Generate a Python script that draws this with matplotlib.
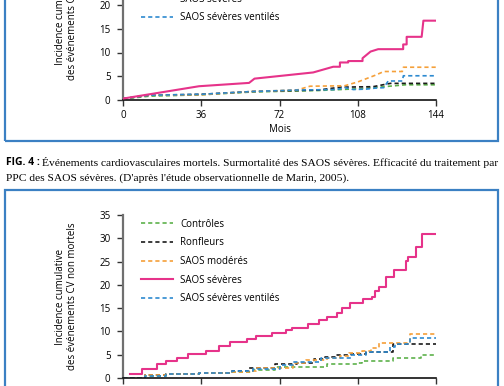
import matplotlib
matplotlib.use("Agg")
import matplotlib.pyplot as plt
from matplotlib.patches import Rectangle

# Fig. 4 : événements CV mortels (haut) et non mortels (bas), en fonction des mois
labels = ["Contrôles", "Ronfleurs", "SAOS modérés", "SAOS sévères", "SAOS sévères ventilés"]
colors = ["#5db14b", "#1a1a1a", "#f5a03a", "#e6338a", "#2d8ad0"]
ticks_x = [0, 36, 72, 108, 144]

# --- graphique du haut (mortels)
top_ctrl_x = [0, 12, 36, 60, 90, 110, 120, 130, 144]
top_ctrl_y = [0.2, 0.8, 1.1, 1.7, 2.0, 2.4, 2.8, 3.2, 3.2]
top_ronf_x = [0, 12, 36, 60, 90, 100, 115, 123, 144]
top_ronf_y = [0.3, 1.0, 1.2, 1.8, 2.1, 2.7, 2.8, 3.5, 3.5]
top_mod_x = [0, 12, 36, 60, 80, 86, 102, 108, 112, 116, 120, 128.5, 129, 144]
top_mod_y = [0.3, 1.0, 1.1, 1.8, 2.1, 2.9, 3.0, 3.8, 4.5, 5.2, 6.0, 6.0, 6.9, 6.9]
top_sev_x = [0, 35, 58, 60.5, 87.5, 96.7, 99.8, 99.8, 103.6, 103.6, 110.2, 110.2, 113.9,
             117.4, 128.9, 128.9, 130.5, 130.5, 137.4, 138.2, 144]
top_sev_y = [0.3, 2.9, 3.6, 4.5, 5.8, 7.0, 7.0, 7.9, 7.9, 8.2, 8.2, 8.8, 10.2,
             10.7, 10.7, 11.7, 11.7, 13.3, 13.3, 16.7, 16.7]
top_vent_x = [0, 12, 36, 60, 80, 98, 102, 106, 112, 116, 120, 122, 128.5, 129, 144]
top_vent_y = [0.3, 1.0, 1.2, 1.8, 2.1, 2.2, 2.6, 2.2, 2.3, 2.5, 2.6, 4.0, 4.0, 5.1, 5.1]

# --- graphique du bas (non mortels), en escalier
bas_ctrl_x = [0, 10, 20, 35, 50, 60, 70, 94, 108, 110, 124, 137, 144]
bas_ctrl_y = [0, 0.5, 0.8, 1.0, 1.2, 1.8, 2.4, 3.0, 3.2, 3.7, 4.4, 4.9, 4.9]
bas_ronf_x = [0, 10, 20, 35, 50, 58, 70, 80, 88, 93, 98, 105, 112, 122, 124, 144]
bas_ronf_y = [0, 0.6, 0.9, 1.1, 1.6, 2.1, 2.9, 3.2, 4.1, 4.6, 4.9, 5.2, 5.6, 5.6, 7.3, 7.3]
bas_mod_x = [0, 10, 20, 35, 50, 58, 61, 78, 84, 94, 100, 104, 110, 114, 118, 131, 132, 144]
bas_mod_y = [0, 0.6, 0.9, 1.1, 1.3, 1.4, 2.1, 3.2, 3.9, 4.4, 4.8, 5.4, 5.9, 6.4, 7.5, 7.6, 9.45, 9.45]
bas_sev_x = [3, 8.6, 15.5, 20, 25, 30, 38, 44, 49, 57, 61, 68.5, 75, 77.6, 85, 90, 94, 98.5,
             100.6, 104.4, 110.5, 114.5, 116, 118, 121, 124.7, 130, 131, 135, 137.5, 144]
bas_sev_y = [0.85, 1.9, 2.9, 3.6, 4.3, 5.1, 5.8, 6.9, 7.8, 8.3, 9.0, 9.6, 10.2, 10.8, 11.7, 12.5,
             13.0, 13.9, 15.0, 16.2, 17.0, 17.5, 18.7, 19.5, 21.6, 23.2, 25.1, 26.0, 28.1, 30.9, 30.9]
bas_vent_x = [0, 10, 20, 35, 50, 60, 72, 78, 91, 105, 112, 120, 123, 125, 132, 144]
bas_vent_y = [0, 0.5, 0.8, 1.0, 1.4, 2.0, 2.8, 3.4, 4.4, 4.9, 5.6, 5.6, 6.6, 7.4, 8.65, 8.65]

plt.rcParams['font.family'] = ['Open Sans', 'DejaVu Sans']

W, H = 504, 386
fig = plt.figure(figsize=(W / 100, H / 100), dpi=100)


def style_axes(ax, ymax, yticks):
    ax.set_xlim(0, 144)
    ax.set_ylim(0, ymax)
    ax.set_xticks(ticks_x)
    ax.set_yticks(yticks)
    for s in ["top", "right"]:
        ax.spines[s].set_visible(False)
    ax.spines["left"].set_color("#707070")
    ax.spines["left"].set_linewidth(1.6)
    ax.spines["bottom"].set_color("#111111")
    ax.spines["bottom"].set_linewidth(1.2)
    ax.tick_params(axis="both", direction="out", length=4, width=1, color="#333333",
                   labelsize=7, pad=3)
    ax.tick_params(axis="y", pad=5)
    ax.patch.set_alpha(0)


leg_kw = dict(bbox_transform=fig.transFigure, frameon=False, fontsize=7,
              handlelength=3.3, labelspacing=0.78, handletextpad=0.75, borderpad=0)

# graphique du haut
ax1 = fig.add_axes([123 / W, (H - 100) / H, 313 / W, 35 * 4.75 / H])
series_top = [(top_ctrl_x, top_ctrl_y), (top_ronf_x, top_ronf_y), (top_mod_x, top_mod_y),
              (top_sev_x, top_sev_y), (top_vent_x, top_vent_y)]
for i, (xs, ys) in enumerate(series_top):
    if i == 3:
        ax1.plot(xs, ys, color=colors[i], lw=1.5, label=labels[i], zorder=5)
    else:
        ax1.plot(xs, ys, color=colors[i], lw=1.2, ls=(0, (2.5, 1.8)), label=labels[i])
style_axes(ax1, 35, [0, 5, 10, 15, 20, 25, 30, 35])
ax1.set_xlabel("Mois", fontsize=7, labelpad=2)
ax1.set_ylabel("Incidence cumulative\ndes événements CV mortels", fontsize=7, labelpad=15)
ax1.legend(loc="lower left", bbox_to_anchor=(136 / W, (H - 28) / H), **leg_kw)

# graphique du bas
ax2 = fig.add_axes([123 / W, (H - 378) / H, 313 / W, 35 * 4.657 / H])
series_bas = [(bas_ctrl_x, bas_ctrl_y), (bas_ronf_x, bas_ronf_y), (bas_mod_x, bas_mod_y),
              (bas_sev_x, bas_sev_y), (bas_vent_x, bas_vent_y)]
for i, (xs, ys) in enumerate(series_bas):
    if i == 3:
        ax2.plot(xs, ys, color=colors[i], lw=1.5, label=labels[i], drawstyle="steps-post", zorder=5)
    else:
        ax2.plot(xs, ys, color=colors[i], lw=1.2, ls=(0, (2.5, 1.8)), label=labels[i],
                 drawstyle="steps-post")
style_axes(ax2, 35, [0, 5, 10, 15, 20, 25, 30, 35])
ax2.set_ylabel("Incidence cumulative\ndes événements CV non mortels", fontsize=7, labelpad=15)
ax2.legend(loc="upper left", bbox_to_anchor=(136 / W, (H - 214) / H), **leg_kw)

# cadres bleus
blue = "#3b80c3"
fig.add_artist(Rectangle((5 / W, (H - 141) / H), 493 / W, 0.5, transform=fig.transFigure,
                         fill=False, edgecolor=blue, lw=1.6, clip_on=False))
fig.add_artist(Rectangle((5 / W, -0.5), 493 / W, 0.5 + (H - 190) / H, transform=fig.transFigure,
                         fill=False, edgecolor=blue, lw=1.6, clip_on=False))

# légende de la figure
fig.text(6 / W, (H - 162) / H, "FIG. 4 :", fontsize=7.5, fontweight="bold",
         family=["Open Sans", "DejaVu Sans"], va="center")
fig.text(42 / W, (H - 162) / H,
         "Événements cardiovasculaires mortels. Surmortalité des SAOS sévères. Efficacité du traitement par",
         fontsize=8.25, family=["Liberation Serif", "DejaVu Serif"], va="center")
fig.text(6 / W, (H - 178) / H,
         "PPC des SAOS sévères. (D'après l'étude observationnelle de Marin, 2005).",
         fontsize=8.25, family=["Liberation Serif", "DejaVu Serif"], va="center")

fig.savefig("out.png", dpi=100)
